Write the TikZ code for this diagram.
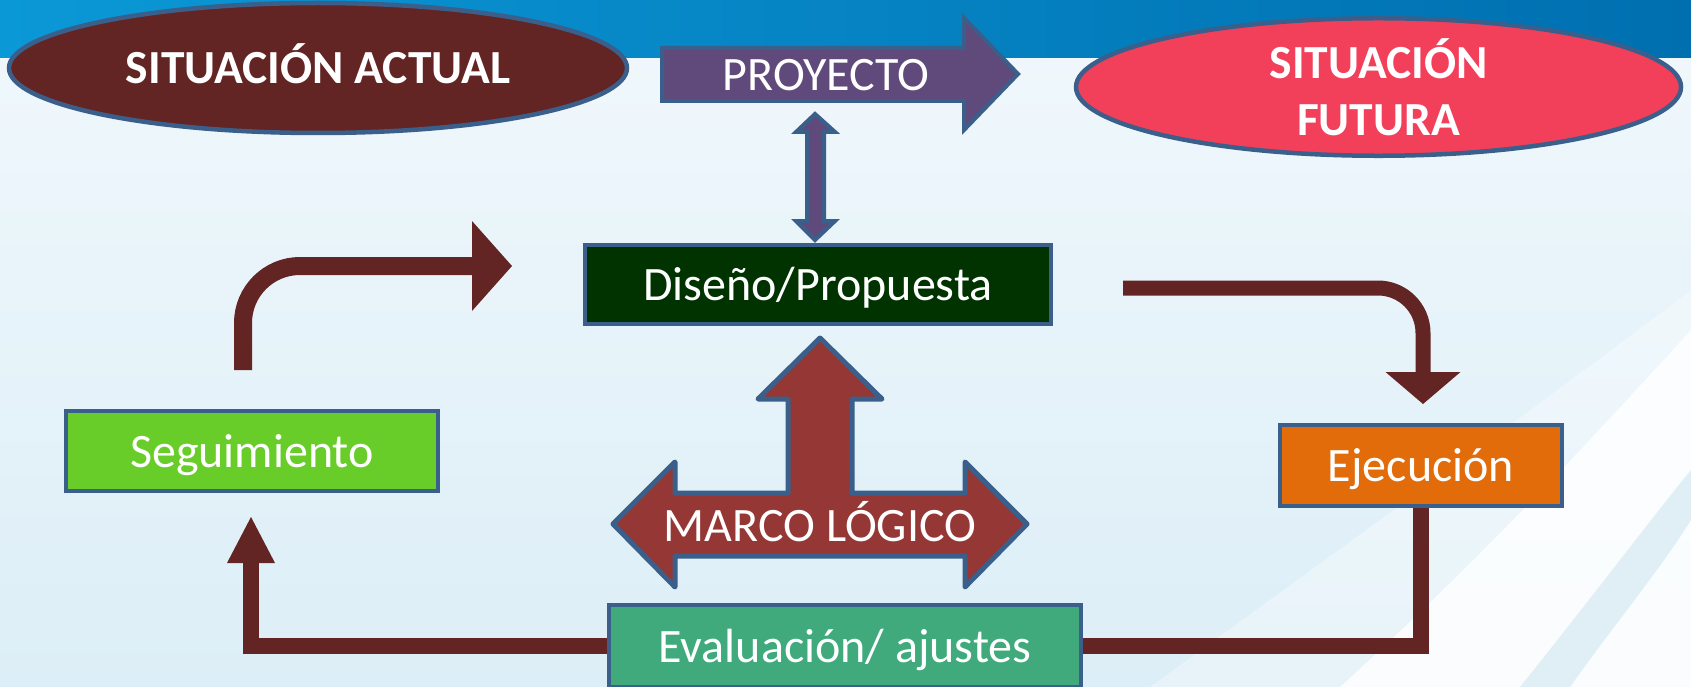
\documentclass[tikz,border=0pt]{standalone}
\usepackage{fontspec}
\setmainfont{Carlito}
\usetikzlibrary{shapes.geometric,arrows.meta,calc}

\definecolor{borde}{HTML}{3A5F8B}
\definecolor{vino}{HTML}{632523}
\definecolor{rosa}{HTML}{F2405B}
\definecolor{morado}{HTML}{604A7B}
\definecolor{verdeosc}{HTML}{003300}
\definecolor{verdecl}{HTML}{68CD28}
\definecolor{naranja}{HTML}{E36C0A}
\definecolor{verdemar}{HTML}{40AA7C}
\definecolor{ladrillo}{HTML}{953735}
\definecolor{cielo1}{HTML}{0B98D6}
\definecolor{cielo2}{HTML}{006FB0}
\definecolor{fondo1}{HTML}{F1F8FC}
\definecolor{fondo2}{HTML}{DCEEF7}
\definecolor{estela}{HTML}{CFE6F1}

\tikzset{
  texto/.style={text=white, font=\fontsize{48}{57}\selectfont, text height=40pt, text depth=8pt, inner sep=0pt},
  ovalo/.style={ellipse, draw=borde, line width=4.5pt, inner sep=0pt, text=white, font=\bfseries\fontsize{47.5}{57}\selectfont},
  caja/.style={rectangle, draw=borde, line width=4pt, texto},
  linea/.style={draw=vino, line width=#1},
  bloque/.style={draw=borde, line width=4pt}
}

\begin{document}
\begin{tikzpicture}[x=1pt, y=-1pt]
\useasboundingbox (0,0) rectangle (1691,687);
\shade[top color=fondo1, bottom color=fondo2] (0,0) rectangle (1691,687);
\shade[left color=cielo1, right color=cielo2] (0,0) rectangle (1691,58);
\fill[white, opacity=.35] (1150,687) .. controls (1380,520) and (1560,390) .. (1691,290) -- (1691,687) -- cycle;
\fill[white, opacity=.8] (1340,687) .. controls (1480,560) and (1600,430) .. (1691,330) -- (1691,687) -- cycle;
\fill[estela, opacity=.6] (1520,687) .. controls (1590,600) and (1650,520) .. (1691,470) -- (1691,520) .. controls (1660,570) and (1610,630) .. (1570,687) -- cycle;

\node[ovalo, fill=vino, minimum width=618pt, minimum height=130pt, text height=40pt, text depth=8pt] (actual) at (318,68) {SITUACIÓN ACTUAL};
\node[ovalo, fill=rosa, minimum width=605pt, minimum height=129pt, align=center] (futura) at (1378.5,87) {SITUACIÓN\\FUTURA};

\draw[bloque, fill=morado] (662,48) -- (964,48) -- (964,18) -- (1018,74) -- (964,130) -- (964,101) -- (662,101) -- cycle;
\node[texto] (proy) at (826,75) {PROYECTO};
\draw[bloque, fill=morado] (815,114) -- (835,132) -- (824,132) -- (824,221) -- (835,221) -- (815,240) -- (796,221) -- (807,221) -- (807,132) -- (796,132) -- cycle;

\node[caja, fill=verdeosc, minimum width=466pt, minimum height=79pt] (disenio) at (818,284.5) {Diseño/Propuesta};
\node[caja, fill=verdecl, minimum width=372pt, minimum height=80pt] (seg) at (252,451) {Seguimiento};
\node[caja, fill=naranja, minimum width=282pt, minimum height=81pt] (ejec) at (1421,465.5) {Ejecución};
\node[caja, fill=verdemar, minimum width=472pt, minimum height=82pt] (eval) at (845,646) {Evaluación/ ajustes};

\draw[bloque, line width=5pt, line join=round, fill=ladrillo] (820,338) -- (882,399) -- (852,399) -- (852,493) -- (965,493) -- (965,462) -- (1027,524) -- (965,587) -- (965,556) -- (675,556) -- (675,587) -- (613,524) -- (675,462) -- (675,493) -- (788,493) -- (788,399) -- (758,399) -- cycle;
\node[texto] (marco) at (820,525) {MARCO LÓGICO};

\draw[linea=18pt, -{Triangle[length=40pt, width=90pt, line width=0pt]}, rounded corners=57pt] ($(seg.north)+(-9,-39)$) |- ($(disenio.west)+(-71,-18.5)$);
\draw[linea=15pt, -{Triangle[length=32pt, width=75pt, line width=0pt]}, rounded corners=45pt] ($(disenio.east)+(70,3.5)$) -| ($(ejec.north)+(2,-19)$);
\draw[linea=16pt] (ejec.south) |- (eval.east);
\draw[linea=16pt, -{Triangle[length=46pt, width=48pt, line width=0pt]}] (eval.west) -| ($(seg.south)+(-1,24)$);
\end{tikzpicture}
\end{document}
